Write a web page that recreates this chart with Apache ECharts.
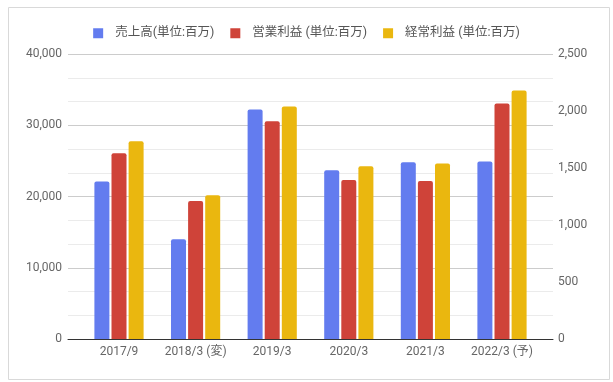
<!DOCTYPE html>
<html>
<head>
<meta charset="utf-8">
<script src="https://cdn.jsdelivr.net/npm/echarts@6/dist/echarts.min.js"></script>
<style>
html,body{margin:0;padding:0;background:#fff;}
#c{width:613px;height:382px;}
</style>
</head>
<body>
<div id="c"></div>
<script>
const categories = ['2017/9', '2018/3 (変)', '2019/3', '2020/3', '2021/3', '2022/3 (予)'];
const seriesNames = ['売上高(単位:百万)', '営業利益 (単位:百万)', '経常利益 (単位:百万)'];
const sales = [22100, 14000, 32200, 23700, 24800, 24900];
const operatingProfit = [1630, 1210, 1910, 1395, 1385, 2065];
const ordinaryProfit = [1735, 1262, 2040, 1515, 1540, 2180];
const leftTicks = [0, 40000, 10000];
const rightTicks = [0, 2500, 500];

const colors = ['#637CEF', '#CF4339', '#EAB70F'];
const font = 'Roboto, "Noto Sans CJK JP", sans-serif';
const fmt = v => v.toLocaleString('en-US');

const chart = echarts.init(document.getElementById('c'), null, {renderer: 'canvas'});
chart.setOption({
  animation: false,
  color: colors,
  textStyle: {fontFamily: font},
  graphic: [{
    type: 'rect', left: 6, top: 5, z: -1,
    shape: {width: 601, height: 372},
    style: {fill: 'none', stroke: '#d9d9d9', lineWidth: 1}
  }],
  legend: {
    top: 22, left: 'center',
    icon: 'rect', itemWidth: 10, itemHeight: 10, itemGap: 16,
    textStyle: {color: '#555', fontSize: 12.5, fontFamily: font, padding: [0, 0, 0, 7]},
    data: seriesNames
  },
  grid: [
    {left: 68, right: 60, top: 54, bottom: 43},
    {left: 80.7, right: 72.7, top: 54, bottom: 43}
  ],
  xAxis: [
    {gridIndex: 0, type: 'category', data: categories,
      axisLine: {show: true, lineStyle: {color: '#333', width: 1}},
      axisTick: {show: false}, axisLabel: {show: false}, splitLine: {show: false}},
    {gridIndex: 1, type: 'category', data: categories,
      axisLine: {show: false}, axisTick: {show: false},
      axisLabel: {color: '#666', fontSize: 12, margin: 7, interval: 0, fontFamily: font}}
  ],
  yAxis: [
    {gridIndex: 0, type: 'value', min: leftTicks[0], max: leftTicks[1], interval: leftTicks[2],
      axisLine: {show: false}, axisTick: {show: false},
      axisLabel: {color: '#666', fontSize: 12, margin: 6, formatter: fmt, fontFamily: font},
      splitLine: {show: true, lineStyle: {color: '#cccccc', width: 1}},
      minorTick: {show: false, splitNumber: 3},
      minorSplitLine: {show: true, lineStyle: {color: '#ebebeb', width: 1}}},
    {gridIndex: 0, type: 'value', position: 'right', min: rightTicks[0], max: rightTicks[1], interval: rightTicks[2],
      axisLine: {show: false}, axisTick: {show: false},
      axisLabel: {color: '#666', fontSize: 12, margin: 5, formatter: fmt, fontFamily: font},
      splitLine: {show: false}},
    {gridIndex: 1, type: 'value', min: leftTicks[0], max: leftTicks[1], show: false},
    {gridIndex: 1, type: 'value', min: rightTicks[0], max: rightTicks[1], show: false}
  ],
  series: [
    {name: seriesNames[0], type: 'bar', xAxisIndex: 1, yAxisIndex: 2, data: sales,
      barWidth: 15, barGap: '14%', itemStyle: {borderRadius: [2, 2, 0, 0]}},
    {name: seriesNames[1], type: 'bar', xAxisIndex: 1, yAxisIndex: 3, data: operatingProfit,
      barWidth: 15, barGap: '14%', itemStyle: {borderRadius: [2, 2, 0, 0]}},
    {name: seriesNames[2], type: 'bar', xAxisIndex: 1, yAxisIndex: 3, data: ordinaryProfit,
      barWidth: 15, barGap: '14%', itemStyle: {borderRadius: [2, 2, 0, 0]}}
  ]
});
</script>
</body>
</html>
